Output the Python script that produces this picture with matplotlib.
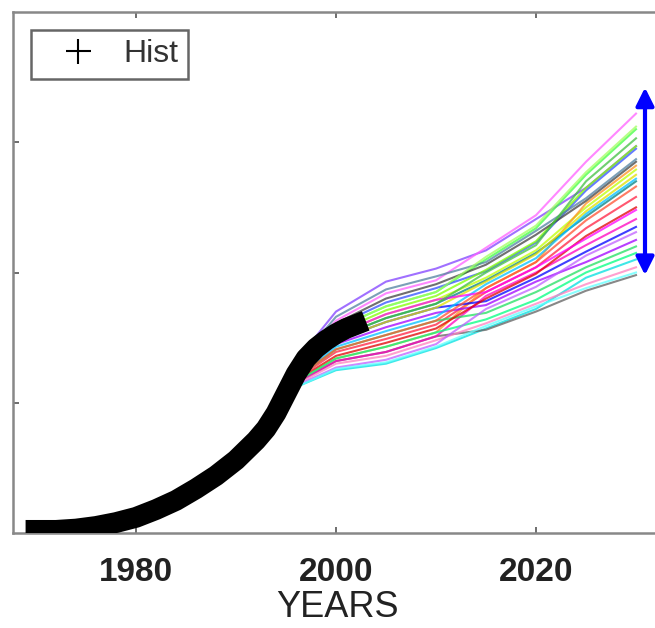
import matplotlib
matplotlib.use("Agg")
import matplotlib.pyplot as plt
from matplotlib.lines import Line2D

plt.rcParams['font.family'] = ['Liberation Sans', 'DejaVu Sans']

# historical series (thick black)
hist_years = [1970, 1972, 1974, 1976, 1978, 1980, 1982, 1984, 1986, 1988, 1990,
              1992, 1993, 1994, 1995, 1996, 1997, 1998, 1999, 2000, 2001, 2002]
hist_vals = [0.02, 0.02, 0.03, 0.05, 0.08, 0.12, 0.18, 0.25, 0.34, 0.44, 0.56,
             0.71, 0.80, 0.92, 1.07, 1.22, 1.34, 1.42, 1.48, 1.53, 1.57, 1.60]

# ensemble runs
run_years = [1985, 1990, 1993, 1996, 2000, 2005, 2010, 2015, 2020, 2025, 2030]
runs = [
    [0.33, 0.60, 0.86, 1.32, 1.70, 1.93, 2.03, 2.17, 2.41, 2.65, 2.97],
    [0.32, 0.59, 0.85, 1.29, 1.63, 1.84, 1.94, 2.19, 2.44, 2.85, 3.22],
    [0.31, 0.58, 0.84, 1.26, 1.57, 1.74, 1.85, 2.10, 2.34, 2.75, 3.10],
    [0.28, 0.54, 0.77, 1.12, 1.25, 1.30, 1.42, 1.57, 1.72, 1.96, 2.10],
    [0.28, 0.54, 0.78, 1.15, 1.32, 1.39, 1.51, 1.56, 1.70, 1.86, 1.98],
    [0.32, 0.59, 0.84, 1.27, 1.59, 1.77, 1.88, 2.01, 2.23, 2.63, 2.95],
    [0.29, 0.55, 0.79, 1.18, 1.39, 1.49, 1.60, 1.85, 2.04, 2.34, 2.58],
    [0.31, 0.57, 0.82, 1.24, 1.52, 1.68, 1.79, 1.96, 2.17, 2.50, 2.79],
    [0.29, 0.55, 0.79, 1.16, 1.34, 1.43, 1.54, 1.88, 2.08, 2.53, 2.82],
    [0.28, 0.55, 0.78, 1.15, 1.32, 1.39, 1.51, 1.82, 2.00, 2.21, 2.41],
    [0.29, 0.56, 0.80, 1.19, 1.41, 1.52, 1.63, 1.69, 1.85, 2.04, 2.20],
    [0.30, 0.56, 0.81, 1.21, 1.45, 1.58, 1.69, 1.75, 1.93, 2.08, 2.25],
    [0.30, 0.57, 0.82, 1.23, 1.50, 1.65, 1.76, 1.94, 2.15, 2.43, 2.70],
    [0.31, 0.58, 0.83, 1.25, 1.54, 1.71, 1.82, 2.02, 2.24, 2.65, 2.97],
    [0.28, 0.54, 0.78, 1.14, 1.30, 1.36, 1.48, 1.61, 1.76, 1.91, 2.04],
    [0.30, 0.56, 0.81, 1.22, 1.48, 1.62, 1.73, 1.78, 1.96, 2.16, 2.35],
    [0.32, 0.59, 0.85, 1.28, 1.61, 1.80, 1.91, 2.06, 2.29, 2.55, 2.85],
    [0.30, 0.56, 0.80, 1.20, 1.43, 1.55, 1.66, 1.91, 2.11, 2.45, 2.72],
    [0.29, 0.55, 0.79, 1.17, 1.36, 1.46, 1.57, 1.80, 1.99, 2.28, 2.50],
    [0.29, 0.55, 0.79, 1.16, 1.34, 1.43, 1.54, 1.64, 1.79, 2.00, 2.15],
    [0.30, 0.56, 0.81, 1.22, 1.48, 1.62, 1.73, 1.93, 2.14, 2.47, 2.75],
    [0.31, 0.57, 0.82, 1.24, 1.52, 1.68, 1.79, 1.85, 2.04, 2.26, 2.48],
    [0.32, 0.59, 0.85, 1.30, 1.66, 1.87, 1.97, 2.08, 2.32, 2.57, 2.87],
    [0.30, 0.57, 0.82, 1.23, 1.50, 1.65, 1.76, 2.00, 2.21, 2.70, 3.03],
    [0.29, 0.56, 0.80, 1.19, 1.41, 1.52, 1.63, 1.88, 2.08, 2.40, 2.66],
    [0.28, 0.54, 0.77, 1.13, 1.27, 1.33, 1.45, 1.72, 1.89, 2.13, 2.31],
    [0.31, 0.58, 0.84, 1.26, 1.57, 1.74, 1.85, 2.12, 2.36, 2.77, 3.12],
    [0.28, 0.54, 0.77, 1.12, 1.26, 1.31, 1.43, 1.59, 1.74, 1.88, 2.00],
]
run_colors = ['#8040ff', '#ff60ff', '#40ff40', '#00e0e0', '#606060', '#3050ff',
              '#ff2040', '#c0ff00', '#ff9020', '#ff00c0', '#20e060', '#a000ff',
              '#008080', '#80ff00', '#ff80c0', '#0000ff', '#404040', '#00c0ff',
              '#e00000', '#00ff80', '#e0e000', '#ff00ff', '#5080a0', '#40c040',
              '#ff5030', '#c060ff', '#a0ff60', '#60ffff']

xticks = [1980, 2000, 2020]

fig = plt.figure(figsize=(6.55, 6.28), dpi=100)
ax = fig.add_axes([13 / 655, 95 / 628, 648 / 655, 521 / 628])

for vals, c in zip(runs, run_colors):
    ax.plot(run_years, vals, color=c, lw=1.5, alpha=0.75, zorder=2)

ax.plot(hist_years, hist_vals, color='black', lw=15, solid_capstyle='projecting',
        solid_joinstyle='round', zorder=3)

ends = [r[-1] for r in runs]
ax.annotate('', xy=(2030.9, max(ends) + 0.2), xytext=(2030.9, min(ends)),
            arrowprops=dict(arrowstyle='<|-|>', color='#0000ff', lw=3,
                            mutation_scale=27, shrinkA=0, shrinkB=0),
            zorder=4, annotation_clip=False)

ax.set_xlim(1967.7, 2032.5)
ax.set_ylim(0, 4)
ax.set_xticks(xticks)
ax.set_xticklabels([str(t) for t in xticks], fontsize=24, fontweight='bold', color='#222222')
ax.set_yticks([1, 2, 3])
ax.set_yticklabels([])
ax.tick_params(direction='in', length=4, width=1.2, color='#555555',
               top=True, right=True, pad=17)
for s in ax.spines.values():
    s.set_color('#888888')
    s.set_linewidth(1.8)

ax.set_xlabel('YEARS', fontsize=26, color='#222222', labelpad=2)

handle = Line2D([], [], color='black', marker='+', linestyle='none',
                markersize=18, markeredgewidth=1.5)
leg = ax.legend([handle], ['Hist'], loc='upper left', fontsize=23,
                borderaxespad=0.56, borderpad=0.3, handlelength=2.34,
                handletextpad=0.25, fancybox=False, framealpha=1)
leg.get_frame().set_edgecolor('#666666')
leg.get_frame().set_linewidth(1.8)
for t in leg.get_texts():
    t.set_color('#333333')

fig.savefig('out.png', dpi=100)
